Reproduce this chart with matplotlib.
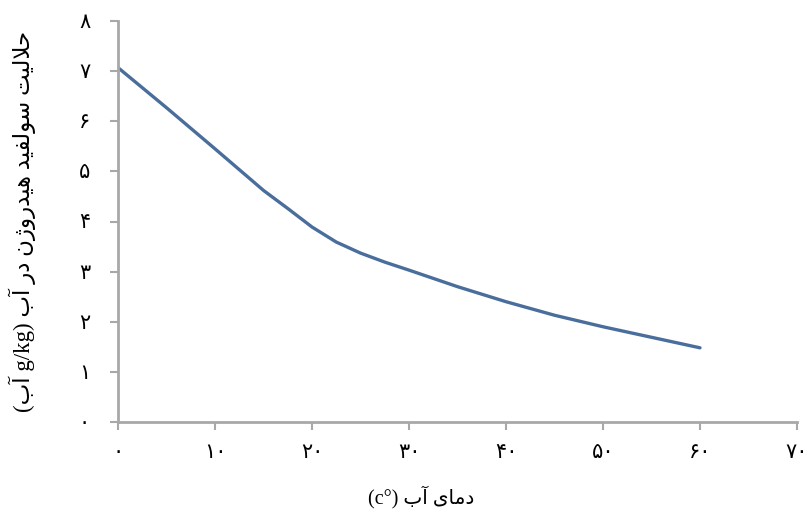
import matplotlib
matplotlib.use("Agg")
import matplotlib.pyplot as plt

# ---- data ----
temperature = [0, 5, 10, 15, 17.5, 20, 22.5, 25, 27.5, 30, 35, 40, 45, 50, 55, 60]
solubility = [7.07, 6.27, 5.45, 4.62, 4.26, 3.89, 3.59, 3.37, 3.19, 3.03, 2.70, 2.40,
              2.13, 1.90, 1.69, 1.48]
x_ticks = [0, 10, 20, 30, 40, 50, 60, 70]
y_ticks = [0, 1, 2, 3, 4, 5, 6, 7, 8]
x_label_words = ["دمای", "آب"]
x_label_unit = "(c°)"
y_label_words = ["حلالیت", "سولفید", "هیدروژن", "در", "آب"]
y_label_unit = "g/kg"
y_label_unit_word = "آب"

# ---- minimal Persian shaping (presentation forms, visual order) ----
FORMS = {
    'ا': ('\uFE8D', '\uFE8E', None, None),
    'آ': ('\uFE81', '\uFE82', None, None),
    'ب': ('\uFE8F', '\uFE90', '\uFE91', '\uFE92'),
    'ت': ('\uFE95', '\uFE96', '\uFE97', '\uFE98'),
    'ح': ('\uFEA1', '\uFEA2', '\uFEA3', '\uFEA4'),
    'د': ('\uFEA9', '\uFEAA', None, None),
    'ر': ('\uFEAD', '\uFEAE', None, None),
    'ژ': ('\uFB8A', '\uFB8B', None, None),
    'س': ('\uFEB1', '\uFEB2', '\uFEB3', '\uFEB4'),
    'ف': ('\uFED1', '\uFED2', '\uFED3', '\uFED4'),
    'ل': ('\uFEDD', '\uFEDE', '\uFEDF', '\uFEE0'),
    'م': ('\uFEE1', '\uFEE2', '\uFEE3', '\uFEE4'),
    'ن': ('\uFEE5', '\uFEE6', '\uFEE7', '\uFEE8'),
    'ه': ('\uFEE9', '\uFEEA', '\uFEEB', '\uFEEC'),
    'و': ('\uFEED', '\uFEEE', None, None),
    'ی': ('\uFBFC', '\uFBFD', '\uFBFE', '\uFBFF'),
}
LAM_ALEF = {'ا': ('\uFEFB', '\uFEFC'), 'آ': ('\uFEF5', '\uFEF6')}


def fa(word):
    out = []
    i = 0
    prev_joins = False
    while i < len(word):
        c = word[i]
        if c not in FORMS:
            out.append(c)
            prev_joins = False
            i += 1
            continue
        if c == 'ل' and i + 1 < len(word) and word[i + 1] in LAM_ALEF:
            iso, fin = LAM_ALEF[word[i + 1]]
            out.append(fin if prev_joins else iso)
            prev_joins = False
            i += 2
            continue
        f = FORMS[c]
        dual = f[2] is not None
        nxt = i + 1 < len(word) and word[i + 1] in FORMS
        join_next = dual and nxt
        if prev_joins and join_next:
            g = f[3]
        elif prev_joins:
            g = f[1]
        elif join_next:
            g = f[2]
        else:
            g = f[0]
        out.append(g)
        prev_joins = join_next
        i += 1
    return ''.join(reversed(out))


PERSIAN_DIGITS = str.maketrans('0123456789', '۰۱۲۳۴۵۶۷۸۹')


def fa_num(n):
    return str(n).translate(PERSIAN_DIGITS)


FAM = ['Liberation Serif', 'DejaVu Sans']
plt.rcParams['font.family'] = FAM

fig = plt.figure(figsize=(8.07, 5.15), dpi=100)
L, R, T, B = 118, 797, 21, 422
ax = fig.add_axes([L / 807, (515 - B) / 515, (R - L) / 807, (B - T) / 515])

ax.plot(temperature, solubility, color='#4a6e9c', lw=2.4, solid_capstyle='round',
        solid_joinstyle='round')

ax.set_xlim(0, 70)
ax.set_ylim(0, 8)
ax.set_xticks(x_ticks)
ax.set_xticklabels([fa_num(v) for v in x_ticks])
ax.set_yticks(y_ticks)
ax.set_yticklabels([fa_num(v) for v in y_ticks])

for s in ['top', 'right']:
    ax.spines[s].set_visible(False)
for s in ['left', 'bottom']:
    ax.spines[s].set_color('#a8a8a8')
    ax.spines[s].set_linewidth(2)
ax.tick_params(axis='both', direction='out', length=6, width=1.5, color='#a8a8a8',
               labelsize=15, labelcolor='black')
ax.tick_params(axis='x', pad=10)
ax.tick_params(axis='y', pad=14)

# visual (left-to-right) order of the RTL labels
x_label = x_label_unit + " " + fa(x_label_words[1]) + " " + fa(x_label_words[0])
y_label = ("(" + fa(y_label_unit_word) + " " + y_label_unit + ") "
           + " ".join(fa(w) for w in reversed(y_label_words)))

ax.set_xlabel(x_label, fontsize=14.5)
ax.xaxis.set_label_coords((421 - L) / (R - L), -(497 - B) / (B - T), transform=ax.transAxes)
ax.xaxis.label.set_va('center')
ax.set_ylabel(y_label, fontsize=16.5)
ax.yaxis.set_label_coords(-(L - 22) / (R - L), 0.5, transform=ax.transAxes)
ax.yaxis.label.set_va('center')

fig.savefig("out.png", dpi=100)
